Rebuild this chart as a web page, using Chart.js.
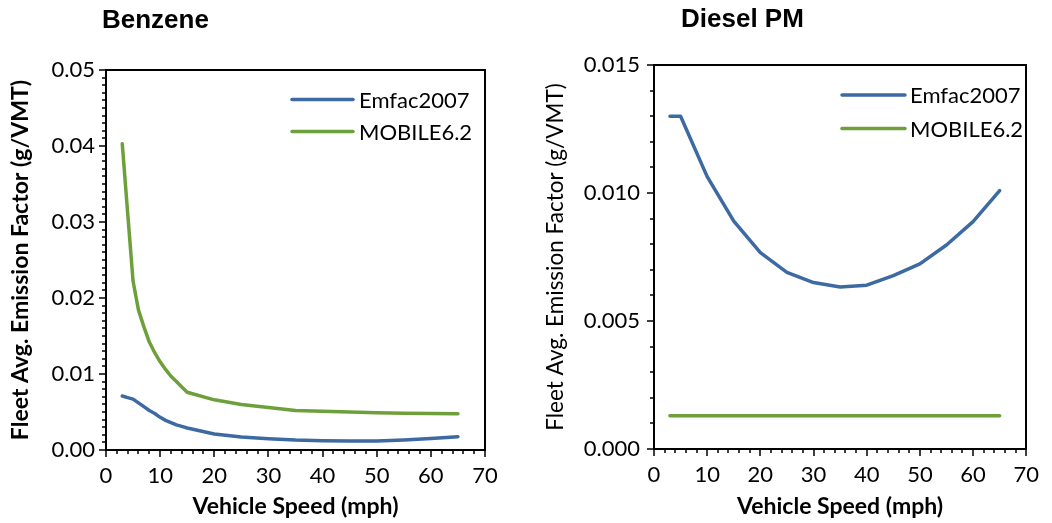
<!DOCTYPE html>
<html>
<head>
<meta charset="utf-8">
<script src="https://cdn.jsdelivr.net/npm/chart.js@4.4.1/dist/chart.umd.min.js"></script>
<style>
html,body{margin:0;padding:0;background:#fff;}
#wrap{position:relative;width:1052px;height:523px;overflow:hidden;background:#fff;}
.box{position:absolute;top:0;width:526px;height:523px;}
.ttl{position:absolute;font-family:"Liberation Sans",Arial,sans-serif;font-weight:bold;font-size:26px;line-height:26px;color:#000;white-space:nowrap;}
</style>
</head>
<body>
<div id="wrap">
  <div class="box" style="left:0px"><canvas id="c1" width="526" height="523"></canvas></div>
  <div class="box" style="left:526px"><canvas id="c2" width="526" height="523"></canvas></div>
  <div class="ttl" style="left:102px;top:6px">Benzene</div>
  <div class="ttl" style="left:681px;top:5px">Diesel PM</div>
</div>
<script>
// ---- data ----
const seriesNames = ['Emfac2007', 'MOBILE6.2'];
const xTicks = [0, 10, 20, 30, 40, 50, 60, 70];

const benzeneSpeeds = [3, 4, 5, 6, 7, 8, 9, 10, 11, 12, 13, 14, 15, 20, 25, 30, 35, 40, 45, 50, 55, 60, 65];
const benzeneEmfac  = [0.0071, 0.0069, 0.0067, 0.0062, 0.0057, 0.0052, 0.0048, 0.0043, 0.0039, 0.0036, 0.0033, 0.0031, 0.0029, 0.0021, 0.0017, 0.00148, 0.0013, 0.00122, 0.00118, 0.0012, 0.00132, 0.0015, 0.00175];
const benzeneMobile = [0.0403, 0.0312, 0.0222, 0.0184, 0.0162, 0.0142, 0.0128, 0.0116, 0.0106, 0.0097, 0.0090, 0.0083, 0.0076, 0.0066, 0.0060, 0.0056, 0.0052, 0.0051, 0.0050, 0.0049, 0.00485, 0.0048, 0.00478];
const benzeneYTicks = [0, 0.01, 0.02, 0.03, 0.04, 0.05];

const dieselSpeeds = [3, 5, 10, 15, 20, 25, 30, 35, 40, 45, 50, 55, 60, 65];
const dieselEmfac  = [0.0130, 0.0130, 0.01064, 0.0089, 0.00767, 0.0069, 0.0065, 0.00633, 0.0064, 0.00677, 0.00723, 0.00797, 0.00888, 0.01009];
const dieselMobile = [0.0013, 0.0013, 0.0013, 0.0013, 0.0013, 0.0013, 0.0013, 0.0013, 0.0013, 0.0013, 0.0013, 0.0013, 0.0013, 0.0013];
const dieselYTicks = [0, 0.005, 0.010, 0.015];

const colors = ['#3D6AA3', '#6DA03A'];

Chart.defaults.font.family = 'Lato';
Chart.defaults.color = '#000';

// legend drawn inside the plot area (top right), as in the original
function makeLegend(L) {
  return {
    id: 'insideLegend',
    afterDraw(chart) {
      const ctx = chart.ctx;
      ctx.save();
      chart.data.datasets.forEach((ds, i) => {
        const y = L.y[i];
        ctx.strokeStyle = ds.borderColor;
        ctx.lineWidth = ds.borderWidth;
        ctx.lineCap = 'round';
        ctx.beginPath(); ctx.moveTo(L.x1, y); ctx.lineTo(L.x2, y); ctx.stroke();
        ctx.fillStyle = '#000';
        ctx.font = L.font;
        ctx.textBaseline = 'middle';
        ctx.textAlign = 'left';
        ctx.fillText(ds.label, L.xText, y + 1);
      });
      ctx.restore();
    }
  };
}

// outward major/minor tick marks, placed through the chart's own scales
function makeTicks(yMajor, yMinorStep) {
  return {
    id: 'tickMarks',
    afterDraw(chart) {
      const ctx = chart.ctx, xs = chart.scales.x, ys = chart.scales.y, a = chart.chartArea;
      const xMinor = [], yMinor = [];
      for (let k = 0; k * 2 <= xs.max + 1e-9; k++) xMinor.push(k * 2);
      for (let k = 0; k * yMinorStep <= ys.max + 1e-12; k++) yMinor.push(k * yMinorStep);
      ctx.save();
      ctx.strokeStyle = '#000';
      ctx.lineWidth = 1.5;
      ctx.beginPath();
      xMinor.forEach(v => { const p = Math.round(xs.getPixelForValue(v)); ctx.moveTo(p, a.bottom); ctx.lineTo(p, a.bottom + 4); });
      xTicks.forEach(v => { const p = Math.round(xs.getPixelForValue(v)); ctx.moveTo(p, a.bottom); ctx.lineTo(p, a.bottom + 7); });
      yMinor.forEach(v => { const p = Math.round(ys.getPixelForValue(v)); ctx.moveTo(a.left, p); ctx.lineTo(a.left - 4, p); });
      yMajor.forEach(v => { const p = Math.round(ys.getPixelForValue(v)); ctx.moveTo(a.left, p); ctx.lineTo(a.left - 7, p); });
      ctx.stroke();
      ctx.restore();
    }
  };
}

function toPoints(xs, ys) { return xs.map((x, i) => ({x: x, y: ys[i]})); }

function build(canvasId, cfg) {
  const makeDs = (label, xs, ys, color) => ({
    label: label, data: toPoints(xs, ys), borderColor: color, backgroundColor: color,
    borderWidth: 3.5, pointRadius: 0, tension: 0, fill: false,
    borderJoinStyle: 'round', borderCapStyle: 'round', xAxisID: 'x', yAxisID: 'y'
  });
  const tickFont = {family: 'Lato', size: 22};
  return new Chart(document.getElementById(canvasId), {
    type: 'line',
    data: {
      datasets: [
        makeDs(seriesNames[0], cfg.speeds, cfg.emfac, colors[0]),
        makeDs(seriesNames[1], cfg.speeds, cfg.mobile, colors[1])
      ]
    },
    options: {
      responsive: false, animation: false, devicePixelRatio: 1,
      layout: {padding: {top: cfg.top, right: cfg.right, bottom: 3, left: 0}},
      plugins: {legend: {display: false}, tooltip: {enabled: false}},
      scales: {
        x: {
          type: 'linear', position: 'bottom', min: 0, max: 70,
          afterBuildTicks: s => { s.ticks = xTicks.map(v => ({value: v})); },
          afterFit: s => { s.height = cfg.xHeight; },
          ticks: {font: tickFont, color: '#000', padding: 13, maxRotation: 0, autoSkip: false},
          grid: {drawOnChartArea: false, drawTicks: false},
          border: {color: '#000', width: 2},
          title: {display: true, text: 'Vehicle Speed (mph)', color: '#000',
                  font: {family: 'Lato', size: 23, weight: 'bold'}, padding: {top: 0, bottom: 0}}
        },
        xTop: {
          type: 'linear', position: 'top', min: 0, max: 70,
          ticks: {display: false}, grid: {display: false},
          border: {color: '#000', width: 2},
          afterFit: s => { s.height = 0; }
        },
        y: {
          type: 'linear', position: 'left', min: 0, max: cfg.yMax,
          afterBuildTicks: s => { s.ticks = cfg.yTicks.map(v => ({value: v})); },
          afterFit: s => { s.width = cfg.yWidth; },
          ticks: {font: tickFont, color: '#000', padding: cfg.yPad,
                  callback: v => Number(v).toFixed(cfg.decimals)},
          grid: {drawOnChartArea: false, drawTicks: false},
          border: {color: '#000', width: 2},
          title: {display: true, text: 'Fleet Avg. Emission Factor (g/VMT)', color: '#000',
                  font: {family: 'Lato', size: cfg.yTitleSize, weight: cfg.yTitleWeight},
                  padding: {top: cfg.yTitlePad, bottom: 0}}
        },
        yRight: {
          type: 'linear', position: 'right', min: 0, max: cfg.yMax,
          ticks: {display: false}, grid: {display: false},
          border: {color: '#000', width: 2},
          afterFit: s => { s.width = 0; }
        }
      }
    },
    plugins: [makeLegend(cfg.legend), makeTicks(cfg.yTicks, cfg.yMinorStep)]
  });
}

build('c1', {
  speeds: benzeneSpeeds, emfac: benzeneEmfac, mobile: benzeneMobile,
  yTicks: benzeneYTicks, yMax: 0.05, yMinorStep: 0.001, decimals: 2,
  top: 70, right: 41, xHeight: 70, yWidth: 106, yPad: 11,
  yTitleSize: 23, yTitleWeight: 'bold', yTitlePad: 7,
  legend: {x1: 292, x2: 353, xText: 359, y: [99.5, 131.5], font: '22px Lato'}
});
build('c2', {
  speeds: dieselSpeeds, emfac: dieselEmfac, mobile: dieselMobile,
  yTicks: dieselYTicks, yMax: 0.015, yMinorStep: 0.001, decimals: 3,
  top: 65, right: 14, xHeight: 71, yWidth: 128, yPad: 14,
  yTitleSize: 22.5, yTitleWeight: 'normal', yTitlePad: 16,
  legend: {x1: 316, x2: 379, xText: 384, y: [95, 128.5], font: '22px Lato'}
});
</script>
</body>
</html>
